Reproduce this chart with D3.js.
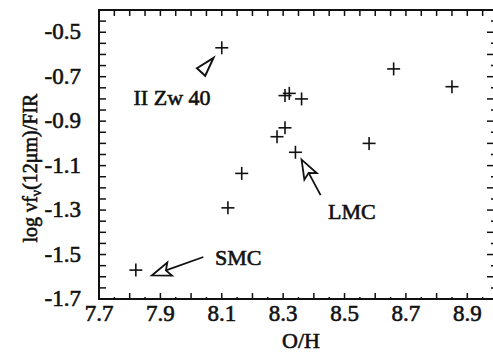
<!DOCTYPE html>
<html>
<head>
<meta charset="utf-8">
<script src="https://cdn.jsdelivr.net/npm/d3@7"></script>
<style>
  body { margin: 0; background: #fff; }
  svg { display: block; }
</style>
</head>
<body>
<div id="chart"></div>
<script>
// O/H abundance vs log(nu f_nu(12um)/FIR)
const oxygenAbund = [8.10, 8.66, 8.85, 8.306, 8.32, 8.36, 8.306, 8.28, 8.58, 8.34, 8.165, 8.12, 7.82];
const logRatio = [-0.57, -0.665, -0.745, -0.785, -0.775, -0.80, -0.93, -0.97, -1.00, -1.04, -1.135, -1.29, -1.57];

const xTickLabels = ["7.7", "7.9", "8.1", "8.3", "8.5", "8.7", "8.9"];
const yTickLabels = ["-0.5", "-0.7", "-0.9", "-1.1", "-1.3", "-1.5", "-1.7"];

const width = 493, height = 353;
const svg = d3.select("#chart").append("svg")
  .attr("width", width).attr("height", height)
  .attr("font-family", "'Liberation Serif', 'Times New Roman', serif");

const x = d3.scaleLinear().domain([7.7, 9.0]).range([99, 498]);
const y = d3.scaleLinear().domain([-1.7, -0.4]).range([299, 10]);

const ink = "#111";
const g = svg.append("g");

// frame
g.append("rect")
  .attr("x", x(7.7)).attr("y", y(-0.4))
  .attr("width", x(9.0) - x(7.7)).attr("height", y(-1.7) - y(-0.4))
  .attr("fill", "none").attr("stroke", ink).attr("stroke-width", 2);

// ticks (inward)
const xTicks = d3.range(0, 27).map(i => +(7.7 + i * 0.05).toFixed(2));
const yTicks = d3.range(0, 27).map(i => +(-1.7 + i * 0.05).toFixed(2));
const isTenth = v => Math.abs(v * 10 - Math.round(v * 10)) < 1e-6;

// bottom: tenths long, half-tenths tiny
g.selectAll(".tb").data(xTicks).join("line")
  .attr("x1", d => x(d)).attr("x2", d => x(d))
  .attr("y1", y(-1.7)).attr("y2", d => y(-1.7) - (isTenth(d) ? 6 : 2))
  .attr("stroke", ink).attr("stroke-width", 1.5);
// top: every 0.05
g.selectAll(".tt").data(xTicks).join("line")
  .attr("x1", d => x(d)).attr("x2", d => x(d))
  .attr("y1", y(-0.4)).attr("y2", y(-0.4) + 6)
  .attr("stroke", ink).attr("stroke-width", 1.5);
// left: every 0.05
g.selectAll(".tl").data(yTicks).join("line")
  .attr("x1", x(7.7)).attr("x2", x(7.7) + 7)
  .attr("y1", d => y(d)).attr("y2", d => y(d))
  .attr("stroke", ink).attr("stroke-width", 1.5);
// right: tenths long, half-tenths tiny
g.selectAll(".tr").data(yTicks).join("line")
  .attr("x1", d => x(9.0) - (isTenth(d) ? 11 : 7)).attr("x2", d => x(9.0) - (isTenth(d) ? 0 : 5))
  .attr("y1", d => y(d)).attr("y2", d => y(d))
  .attr("stroke", ink).attr("stroke-width", 1.5);

// scanned print looks heavy, thicken glyphs a little
const txt = sel => sel.attr("fill", ink).attr("stroke", ink).attr("stroke-width", 0.6);

// tick labels
g.selectAll(".xl").data(xTickLabels).join("text")
  .attr("x", d => x(+d)).attr("y", y(-1.7) + 22)
  .attr("text-anchor", "middle").attr("font-size", 23).text(d => d).call(txt);
g.selectAll(".yl").data(yTickLabels).join("text")
  .attr("x", x(7.7) - 18).attr("y", d => y(+d) + 7)
  .attr("text-anchor", "end").attr("font-size", 23).text(d => d).call(txt);

// axis titles
g.append("text").attr("x", 301).attr("y", 348)
  .attr("text-anchor", "middle").attr("font-size", 22).text("O/H").call(txt);
const yl = g.append("text")
  .attr("transform", "translate(37,168) rotate(-90)")
  .attr("text-anchor", "middle").attr("font-size", 20).call(txt);
yl.append("tspan").text("log \u03bdf");
yl.append("tspan").attr("font-size", 14).attr("dy", 4).text("\u03bd");
yl.append("tspan").attr("dy", -4).text("(12\u03bcm)/FIR");

// points as crosses
const arm = 6.5;
const pts = g.selectAll(".pt").data(oxygenAbund).join("g")
  .attr("transform", (d, i) => `translate(${x(d)},${y(logRatio[i])})`);
pts.append("line").attr("x1", -arm).attr("x2", arm).attr("stroke", ink).attr("stroke-width", 1.6);
pts.append("line").attr("y1", -arm).attr("y2", arm).attr("stroke", ink).attr("stroke-width", 1.6);

// annotations (data units)
const notes = [
  { label: "II Zw 40", tx: 7.938, ty: -0.828, anchor: "middle",
    head: [[8.019, -0.662], [8.073, -0.615], [8.046, -0.696]] },
  { label: "LMC", tx: 8.446, ty: -1.341, anchor: "start",
    tip: [8.360, -1.073], tail: [8.422, -1.233] },
  { label: "SMC", tx: 8.078, ty: -1.549, anchor: "start",
    tip: [7.872, -1.594], tail: [8.040, -1.511] }
];

notes.forEach(n => {
  g.append("text").attr("x", x(n.tx)).attr("y", y(n.ty))
    .attr("text-anchor", n.anchor).attr("font-size", 22).text(n.label).call(txt);
  if (n.head) {
    g.append("path")
      .attr("d", "M" + n.head.map(p => [x(p[0]), y(p[1])].join(",")).join("L") + "Z")
      .attr("fill", "#fff").attr("stroke", ink).attr("stroke-width", 2)
      .attr("stroke-linejoin", "miter");
  } else {
    const tx = x(n.tip[0]), ty = y(n.tip[1]);
    const sx = x(n.tail[0]), sy = y(n.tail[1]);
    const len = Math.hypot(tx - sx, ty - sy);
    const ux = (tx - sx) / len, uy = (ty - sy) / len;
    const hl = 19, hw = 7, notch = 4;
    const bx = tx - ux * hl, by = ty - uy * hl;
    const nx = tx - ux * (hl - notch), ny = ty - uy * (hl - notch);
    g.append("line").attr("x1", sx).attr("y1", sy).attr("x2", nx).attr("y2", ny)
      .attr("stroke", ink).attr("stroke-width", 1.8);
    g.append("path")
      .attr("d", `M${tx},${ty}L${bx - uy * hw},${by + ux * hw}L${nx},${ny}L${bx + uy * hw},${by - ux * hw}Z`)
      .attr("fill", "#fff").attr("stroke", ink).attr("stroke-width", 1.8)
      .attr("stroke-linejoin", "miter");
  }
});
</script>
</body>
</html>
